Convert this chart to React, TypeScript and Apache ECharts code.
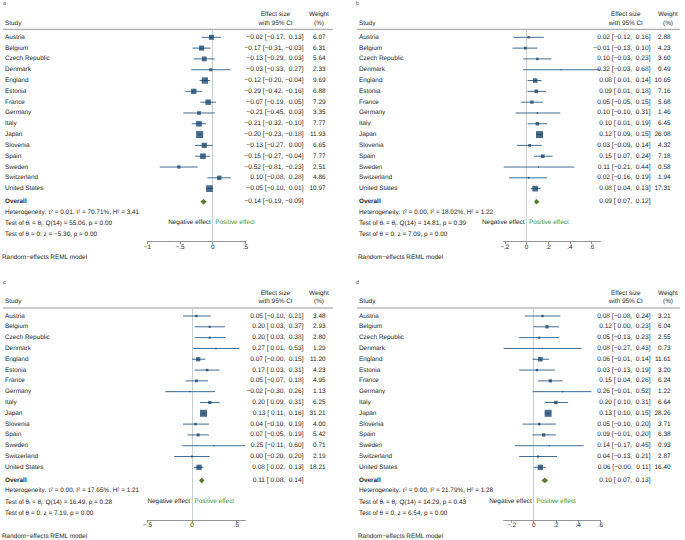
import React, { useEffect, useRef } from "react";
import * as echarts from "echarts";

// ---------- data ----------
const STUDIES = [
  "Austria", "Belgium", "Czech Republic", "Denmark", "England", "Estonia", "France",
  "Germany", "Italy", "Japan", "Slovenia", "Spain", "Sweden", "Switzerland", "United States",
];

const A_ES = [-0.02, -0.17, -0.13, -0.03, -0.12, -0.29, -0.07, -0.21, -0.21, -0.2, -0.13, -0.15, -0.52, 0.1, -0.05];
const A_LO = [-0.17, -0.31, -0.29, -0.33, -0.2, -0.42, -0.19, -0.45, -0.32, -0.23, -0.27, -0.27, -0.81, -0.08, -0.1];
const A_HI = [0.13, -0.03, 0.03, 0.27, -0.04, -0.16, 0.05, 0.03, -0.1, -0.18, 0.0, -0.04, -0.23, 0.28, 0.01];
const A_W = [6.07, 6.31, 5.64, 2.33, 9.69, 6.88, 7.29, 3.35, 7.77, 11.93, 6.65, 7.77, 2.51, 4.86, 10.97];
const A_OVERALL = [-0.14, -0.19, -0.09];
const A_HET = [0.01, 70.71, 3.41];
const A_TEST = [14, 55.06, 0.0, -5.3, 0.0];
const A_TICKS = [-1, -0.5, 0, 0.5];

const B_ES = [0.02, -0.01, 0.1, 0.32, 0.08, 0.09, 0.05, 0.1, 0.1, 0.12, 0.03, 0.15, 0.11, 0.02, 0.08];
const B_LO = [-0.12, -0.13, -0.03, -0.03, 0.01, 0.01, -0.05, -0.1, 0.01, 0.09, -0.09, 0.07, -0.21, -0.16, 0.04];
const B_HI = [0.16, 0.1, 0.23, 0.68, 0.14, 0.18, 0.15, 0.31, 0.19, 0.15, 0.14, 0.24, 0.44, 0.19, 0.13];
const B_W = [2.88, 4.23, 3.6, 0.49, 10.65, 7.16, 5.68, 1.46, 6.45, 26.08, 4.32, 7.18, 0.58, 1.94, 17.31];
const B_OVERALL = [0.09, 0.07, 0.12];
const B_HET = [0.0, 18.02, 1.22];
const B_TEST = [14, 14.81, 0.39, 7.09, 0.0];
const B_TICKS = [-0.2, 0, 0.2, 0.4, 0.6];

const C_ES = [0.05, 0.2, 0.2, 0.27, 0.07, 0.17, 0.05, -0.02, 0.2, 0.13, 0.04, 0.07, 0.25, 0.0, 0.08];
const C_LO = [-0.1, 0.03, 0.03, 0.01, -0, 0.03, -0.07, -0.3, 0.09, 0.11, -0.1, -0.05, -0.11, -0.2, 0.02];
const C_HI = [0.21, 0.37, 0.38, 0.53, 0.15, 0.31, 0.18, 0.26, 0.31, 0.16, 0.19, 0.19, 0.6, 0.2, 0.13];
const C_W = [3.48, 2.93, 2.8, 1.29, 11.2, 4.23, 4.95, 1.13, 6.25, 31.21, 4.0, 5.42, 0.71, 2.19, 18.21];
const C_OVERALL = [0.11, 0.08, 0.14];
const C_HET = [0.0, 17.65, 1.21];
const C_TEST = [14, 16.49, 0.28, 7.19, 0.0];
const C_TICKS = [-0.5, 0, 0.5];

const D_ES = [0.08, 0.12, 0.05, 0.08, 0.06, 0.03, 0.15, 0.26, 0.2, 0.13, 0.05, 0.09, 0.14, 0.04, 0.06];
const D_LO = [-0.08, 0.0, -0.13, -0.27, -0.01, -0.13, 0.04, -0.01, 0.1, 0.1, -0.1, -0.01, -0.17, -0.13, -0];
const D_HI = [0.24, 0.23, 0.23, 0.43, 0.14, 0.19, 0.26, 0.52, 0.31, 0.15, 0.2, 0.2, 0.45, 0.21, 0.11];
const D_W = [3.21, 6.04, 2.55, 0.73, 11.61, 3.2, 6.24, 1.22, 6.64, 28.26, 3.71, 6.38, 0.93, 2.87, 16.4];
const D_OVERALL = [0.1, 0.07, 0.13];
const D_HET = [0.0, 21.79, 1.28];
const D_TEST = [14, 14.29, 0.43, 6.54, 0.0];
const D_TICKS = [-0.2, 0, 0.2, 0.4, 0.6];

const PANEL_LETTERS = ["a", "b", "c", "d"];

// ---------- styles / layout ----------
const FONT = "Arial, Helvetica, sans-serif";
const FS = 6.4;
const FS_EFF = 6.6;
const TEXT = "#262626";
const MARKER = "#1a476f";
const CI_COLOR = "#2e5a84";
const DIAMOND = "#587a2c";
const GREEN = "#3a9a3a";
const ZERO_LINE = "#c3c9cf";
const AXIS = "#7a7a7a";
const SEP = "#8f8f8f";

const MINUS = "\u2212";
const isNeg = (v: number) => v < 0 || Object.is(v, -0);
const f2 = (v: number) => (isNeg(v) ? MINUS : "") + Math.abs(v).toFixed(2);
const fci = (v: number) => (isNeg(v) ? MINUS : " ") + Math.abs(v).toFixed(2);
const fEffect = (es: number, lo: number, hi: number) => `${f2(es)} [${fci(lo)}, ${fci(hi)}]`;
const fTick = (v: number) => {
  if (v === 0) return "0";
  const s = String(Math.abs(v)).replace(/^0\./, ".");
  return (v < 0 ? MINUS : "") + s;
};

type PanelData = {
  es: number[]; lo: number[]; hi: number[]; w: number[];
  overall: number[]; het: number[]; test: number[]; ticks: number[];
};

const PANELS: PanelData[] = [
  { es: A_ES, lo: A_LO, hi: A_HI, w: A_W, overall: A_OVERALL, het: A_HET, test: A_TEST, ticks: A_TICKS },
  { es: B_ES, lo: B_LO, hi: B_HI, w: B_W, overall: B_OVERALL, het: B_HET, test: B_TEST, ticks: B_TICKS },
  { es: C_ES, lo: C_LO, hi: C_HI, w: C_W, overall: C_OVERALL, het: C_HET, test: C_TEST, ticks: C_TICKS },
  { es: D_ES, lo: D_LO, hi: D_HI, w: D_W, overall: D_OVERALL, het: D_HET, test: D_TEST, ticks: D_TICKS },
];

// horizontal layout: left column panels vs right column panels
const HL = [
  { labelX: 3, studyX: 5, effR: 303.5, wR: 325.5, effC: 275.5, wC: 319, sep1: 3, sep2: 333, plotL: 147.5, plotW: 97.8, noteX: 2 },
  { labelX: 356, studyX: 359, effR: 650.5, wR: 670.5, effC: 625.8, wC: 668, sep1: 357, sep2: 680, plotL: 503.7, plotW: 96.6, noteX: 358 },
];
// vertical layout: top row vs bottom row (offset)
const VOFF = [0, 278.7];
const V = {
  label: 4.3, h1: 14.3, h2: 23, sep: 29.3, row0: 37.3, step: 10.81, overall: 201.7,
  het: 212, t1: 223.5, t2: 234.3, effect: 222.3, axis: 241.5, note: 257.3,
};

function buildPanel(k: number) {
  const d = PANELS[k];
  const h = HL[k % 2];
  const oy = VOFF[Math.floor(k / 2)];
  const top = V.sep + oy;
  const bottom = V.axis + oy;
  const yMin = (top - (V.row0 + oy)) / V.step;
  const yMax = (bottom - (V.row0 + oy)) / V.step;
  const overallRow = (V.overall - V.row0) / V.step;
  const xMin = Math.min(d.ticks[0], ...d.lo);
  const xMax = Math.max(d.ticks[d.ticks.length - 1], ...d.hi);
  const wMax = Math.max(...d.w);
  const rowY = (i: number) => V.row0 + oy + i * V.step;

  const grid = { left: h.plotL, top, width: h.plotW, height: bottom - top };
  const xAxis = {
    gridIndex: k, type: "value", min: xMin, max: xMax, position: "bottom",
    axisLine: { show: true, onZero: false, lineStyle: { color: AXIS, width: 0.8 } },
    axisTick: { show: true, length: 2.5, inside: false, customValues: d.ticks, lineStyle: { color: AXIS, width: 0.8 } },
    axisLabel: {
      show: true, customValues: d.ticks, formatter: (v: number) => fTick(v),
      fontSize: FS, fontFamily: FONT, color: TEXT, margin: 2.5, showMinLabel: true, showMaxLabel: true,
    },
    splitLine: { show: false },
  };
  const yAxis = { gridIndex: k, type: "value", inverse: true, min: yMin, max: yMax, show: false };

  const series: any[] = [
    {
      type: "custom", xAxisIndex: k, yAxisIndex: k, silent: true,
      data: STUDIES.map((_, i) => [d.lo[i], d.hi[i], i]),
      encode: { x: [0, 1], y: 2 },
      renderItem: (_p: any, api: any) => {
        const a = api.coord([api.value(0), api.value(2)]);
        const b = api.coord([api.value(1), api.value(2)]);
        return { type: "line", shape: { x1: a[0], y1: a[1], x2: b[0], y2: b[1] }, style: { stroke: CI_COLOR, lineWidth: 0.9 } };
      },
      z: 2,
    },
    {
      type: "scatter", xAxisIndex: k, yAxisIndex: k, silent: true,
      symbol: "rect",
      data: d.es.map((v, i) => [v, i, d.w[i]]),
      symbolSize: (val: number[]) => Math.max(1.2, 7 * Math.sqrt(val[2] / wMax)),
      itemStyle: { color: MARKER },
      markLine: {
        silent: true, symbol: ["none", "none"], label: { show: false },
        lineStyle: { color: ZERO_LINE, width: 0.9, type: "solid" },
        data: [[{ coord: [0, yMin] }, { coord: [0, yMax] }]],
        z: 1,
      },
      z: 3,
    },
    {
      type: "custom", xAxisIndex: k, yAxisIndex: k, silent: true,
      data: [[d.overall[0], d.overall[1], d.overall[2], overallRow]],
      encode: { x: [0, 1, 2], y: 3 },
      renderItem: (_p: any, api: any) => {
        const r = api.value(3);
        const c = api.coord([api.value(0), r]);
        const l = api.coord([api.value(1), r]);
        const rr = api.coord([api.value(2), r]);
        const hh = 2.8;
        return {
          type: "polygon",
          shape: { points: [[l[0], l[1]], [c[0], c[1] - hh], [rr[0], rr[1]], [c[0], c[1] + hh]] },
          style: { fill: DIAMOND },
        };
      },
      z: 4,
    },
  ];

  const txt = (text: string, x: number, y: number, align: string, extra: any = {}) => ({
    type: "text", x, y, silent: true,
    style: { text, fill: TEXT, fontSize: FS, fontFamily: FONT, align, verticalAlign: "middle", ...extra },
  });

  const g: any[] = [];
  g.push(txt(PANEL_LETTERS[k], h.labelX, V.label + oy, "left", { fill: "#555", fontSize: 5.5 }));
  g.push(txt("Study", h.studyX, V.h2 + oy, "left"));
  g.push(txt("Effect size", h.effC, V.h1 + oy, "center"));
  g.push(txt("with 95% CI", h.effC, V.h2 + oy, "center"));
  g.push(txt("Weight", h.wC, V.h1 + oy, "center"));
  g.push(txt("(%)", h.wC, V.h2 + oy, "center"));
  g.push({
    type: "line", silent: true,
    shape: { x1: h.sep1, y1: V.sep + oy, x2: h.sep2, y2: V.sep + oy },
    style: { stroke: SEP, lineWidth: 0.9 },
  });
  const effFont = { fontSize: FS_EFF };
  STUDIES.forEach((s, i) => {
    g.push(txt(s, h.studyX, rowY(i), "left"));
    g.push(txt(fEffect(d.es[i], d.lo[i], d.hi[i]), h.effR, rowY(i), "right", effFont));
    g.push(txt(d.w[i].toFixed(2), h.wR, rowY(i), "right"));
  });
  g.push(txt("Overall", h.studyX, V.overall + oy, "left", { fontWeight: "bold" }));
  g.push(txt(fEffect(d.overall[0], d.overall[1], d.overall[2]), h.effR, V.overall + oy, "right", effFont));
  g.push(txt(
    `Heterogeneity: \u03c4\u00b2 = ${d.het[0].toFixed(2)}, I\u00b2 = ${d.het[1].toFixed(2)}%, H\u00b2 = ${d.het[2].toFixed(2)}`,
    h.studyX, V.het + oy, "left"));
  g.push(txt(
    `Test of \u03b8\u1d62 = \u03b8\u2c7c: Q(${d.test[0]}) = ${d.test[1].toFixed(2)}, p = ${d.test[2].toFixed(2)}`,
    h.studyX, V.t1 + oy, "left"));
  g.push(txt(
    `Test of \u03b8 = 0: z = ${f2(d.test[3])}, p = ${d.test[4].toFixed(2)}`,
    h.studyX, V.t2 + oy, "left"));
  const zeroX = h.plotL + ((0 - xMin) / (xMax - xMin)) * h.plotW;
  g.push(txt("Negative effect", zeroX - 2, V.effect + oy, "right"));
  g.push(txt("Positive effect", zeroX + 2.5, V.effect + oy, "left", { fill: GREEN }));
  g.push(txt("Random\u2212effects REML model", h.noteX, V.note + oy, "left"));

  return { grid, xAxis, yAxis, series, graphic: g };
}

export default function App() {
  const ref = useRef<HTMLDivElement>(null);
  useEffect(() => {
    if (!ref.current) return;
    const styleEl = document.createElement("style");
    styleEl.textContent = "svg text { text-rendering: geometricPrecision; }";
    document.head.appendChild(styleEl);
    const chart = echarts.init(ref.current, null, { renderer: "svg" });
    const parts = [0, 1, 2, 3].map(buildPanel);
    chart.setOption({
      animation: false,
      backgroundColor: "#ffffff",
      textStyle: { fontFamily: FONT },
      grid: parts.map((p) => p.grid),
      xAxis: parts.map((p) => p.xAxis),
      yAxis: parts.map((p) => p.yAxis),
      series: parts.flatMap((p) => p.series),
      graphic: { elements: parts.flatMap((p) => p.graphic) },
    });
    return () => {
      chart.dispose();
      styleEl.remove();
    };
  }, []);
  return (
    <div
      ref={ref}
      style={{ position: "absolute", left: 0, top: 0, width: 685, height: 540, background: "#fff" }}
    />
  );
}
